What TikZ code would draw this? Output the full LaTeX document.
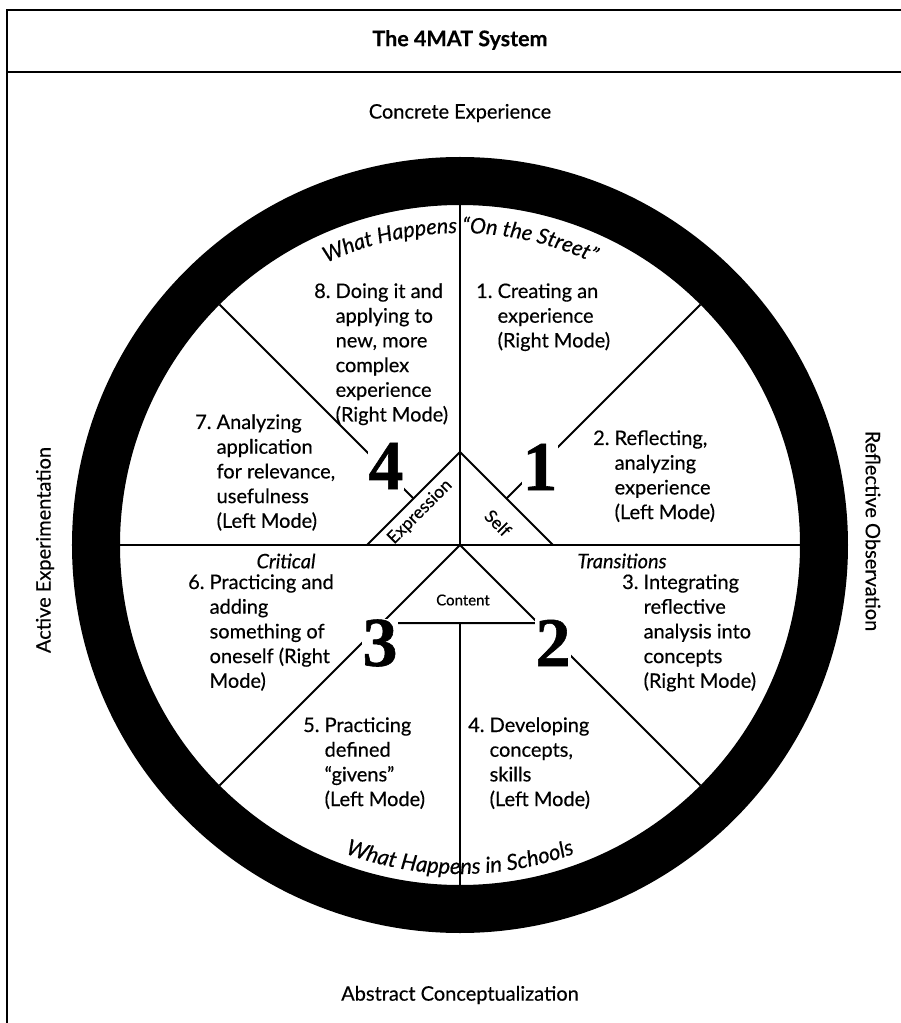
\documentclass[tikz,border=0pt]{standalone}
\usepackage{fontspec}
\setmainfont{Lato}[FakeBold=0.4]
\newfontfamily\numfont{Liberation Serif}[FakeBold=0.8]
\usetikzlibrary{decorations.text}
\tikzset{
  body/.style={font=\fontsize{20}{24.7}\selectfont, inner sep=0pt},
  blk/.style={body, anchor=base west},
  numeral/.style={font=\numfont\bfseries\fontsize{70}{70}\selectfont, fill=white, inner sep=0.5pt},
  spoke/.style={line width=2pt},
  framel/.style={line width=2pt},
  tri/.style={body, font=\fontsize{17.5}{17.5}\selectfont},
}
\newcommand{\itemblock}[2]{\begin{tabular}[t]{@{}l@{\ }l@{}}#1 & #2\end{tabular}}
\begin{document}
\begin{tikzpicture}[x=1pt,y=1pt]
\useasboundingbox (-460,-478) rectangle (441,545);
% frame
\draw[framel] (-453,-478) -- (-453,535) -- (441,535);
\draw[framel] (-453,473) -- (441,473);
\node[body, font=\bfseries\fontsize{21.5}{21.5}\selectfont] (title) at (0,505) {The 4MAT System};
\node[body] (ce) at (0,432) {Concrete Experience};
\node[body] (ac) at (0,-450) {Abstract Conceptualization};
\node[body, rotate=90] (ae) at (-415,-5) {Active Experimentation};
\node[body, rotate=-90] (ro) at (413,14) {Reflective Observation};
% ring
\fill[even odd rule] (0,0) circle[radius=388] (0,0) circle[radius=340];
% spokes
\coordinate (c) at (0,0);
\coordinate (top) at (0,340);
\coordinate (bot) at (0,-340);
\coordinate (lft) at (-340,0);
\coordinate (rgt) at (340,0);
\coordinate (ul) at (135:340);
\coordinate (ur) at (45:340);
\coordinate (ll) at (225:340);
\coordinate (lr) at (315:340);
\coordinate (ta) at (0,93);
\coordinate (tl) at (-93,0);
\coordinate (tr) at (93,0);
\coordinate (bl) at (-78,-78);
\coordinate (br) at (78,-78);
\coordinate (bm) at (0,-78);
\coordinate (ule) at (-46.5,46.5);
\coordinate (ure) at (46.5,46.5);
\draw[spoke] (lft) -- (rgt);
\draw[spoke] (top) -- (c);
\draw[spoke] (bm) -- (bot);
\draw[spoke] (ul) -- (ule);
\draw[spoke] (ur) -- (ure);
\draw[spoke] (ll) -- (bl);
\draw[spoke] (lr) -- (br);
\draw[spoke] (tl) -- (ta) -- (tr);
\draw[spoke, line join=miter] (c) -- (bl) -- (br) -- cycle;
% numerals
\node[numeral] (n4) at (-74,79) {4};
\node[numeral] (n1) at (80,78) {1};
\node[numeral] (n3) at (-80,-98) {3};
\node[numeral] (n2) at (93,-98) {2};
% triangle labels
\node[tri, rotate=45] (expr) at (-40,33) {Expression};
\node[tri, rotate=-45] (self) at (38,22) {Self};
\node[tri, font=\fontsize{15}{15}\selectfont] (content) at (3,-55) {Content};
% curved texts
\path[decorate, decoration={text along path, text align=center,
  text={|\itshape\fontsize{21.5}{21.5}\selectfont|What Happens “On the Street”}}]
  (135:312) arc[start angle=135, end angle=45, radius=312];
\path[decorate, decoration={text along path, text align=center,
  text={|\itshape\fontsize{22}{22}\selectfont|What Happens in Schools}}]
  (225:329) arc[start angle=225, end angle=315, radius=329];
% blocks
\node[blk] (t8) at (-146,247) {\itemblock{8.}{Doing it and\\ & applying to\\ & new, more\\ & complex\\ & experience\\ & (Right Mode)}};
\node[blk] (t1) at (16,247) {\itemblock{1.}{Creating an\\ & experience\\ & (Right Mode)}};
\node[blk] (t7) at (-265,116) {\itemblock{7.}{Analyzing\\ & application\\ & for relevance,\\ & usefulness\\ & (Left Mode)}};
\node[blk] (t2) at (133,100) {\itemblock{2.}{Reflecting,\\ & analyzing\\ & experience\\ & (Left Mode)}};
\node[body, font=\itshape\fontsize{20}{24.7}\selectfont] (crit) at (-174,-16) {Critical};
\node[body, font=\itshape\fontsize{20}{24.7}\selectfont] (trans) at (162,-16) {Transitions};
\node[blk] (t6) at (-272,-44) {\itemblock{6.}{Practicing and\\ & adding\\ & something of\\ & oneself (Right\\ & Mode)}};
\node[blk] (t3) at (162,-44) {\itemblock{3.}{Integrating\\ & reflective\\ & analysis into\\ & concepts\\ & (Right Mode)}};
\node[blk] (t5) at (-157,-187) {\itemblock{5.}{Practicing\\ & defined\\ & “givens”\\ & (Left Mode)}};
\node[blk] (t4) at (8,-187) {\itemblock{4.}{Developing\\ & concepts,\\ & skills\\ & (Left Mode)}};
\end{tikzpicture}
\end{document}
